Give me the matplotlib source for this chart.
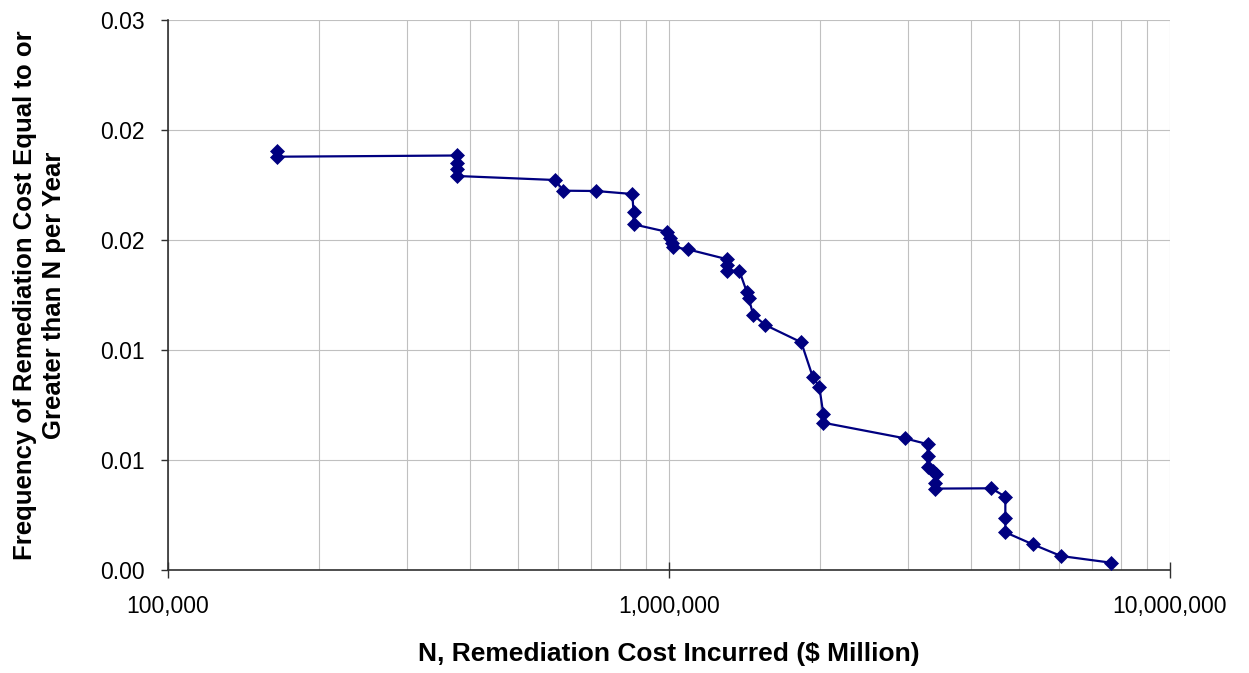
import matplotlib
matplotlib.use("Agg")
import matplotlib.pyplot as plt
from matplotlib.ticker import FixedLocator, NullFormatter, LogLocator

# Remediation cost N (dollars) and annual frequency of cost >= N
cost = [165400, 165400, 378000, 378000, 378000, 378000, 592400, 615200, 715000,
        844800, 849500, 849500, 993100, 1004600, 1016200, 1020000, 1089700,
        1307400, 1307400, 1307400, 1381500, 1429300, 1442500, 1473300, 1556800,
        1836500, 1935700, 1995300, 2032300, 2032300, 2955600, 3283300, 3283300,
        3283300, 3368900, 3411000, 3395300, 3395300, 4398000, 4691800, 4691800,
        4691800, 5320800, 6057600, 7624600]
freq = [0.019059, 0.018786, 0.018841, 0.018500, 0.018214, 0.017909, 0.017727,
        0.017241, 0.017227, 0.017091, 0.016295, 0.015714, 0.015364, 0.015077,
        0.014841, 0.014682, 0.014577, 0.014123, 0.013864, 0.013605, 0.013605,
        0.012650, 0.012350, 0.011591, 0.011136, 0.010350, 0.008786, 0.008332,
        0.007091, 0.006695, 0.005986, 0.005718, 0.005182, 0.004695, 0.004509,
        0.004377, 0.003941, 0.003700, 0.003714, 0.003332, 0.002350, 0.001714,
        0.001168, 0.000636, 0.000332]

x_ticks = [1e5, 1e6, 1e7]
x_tick_labels = ["100,000", "1,000,000", "10,000,000"]
y_ticks = [0.0, 0.005, 0.010, 0.015, 0.020, 0.025]
y_tick_labels = ["0.00", "0.01", "0.01", "0.02", "0.02", "0.03"]

plt.rcParams["font.family"] = ["Liberation Sans", "DejaVu Sans"]

fig = plt.figure(figsize=(12.49, 6.73), dpi=100)
ax = fig.add_axes([168 / 1249, 1 - 570 / 673, 1002 / 1249, 550 / 673])

ax.plot(cost, freq, color="#000080", lw=1.6, marker="D", ms=7,
        mfc="#000080", mec="#000080", mew=0.5, zorder=3)

ax.set_xscale("log")
ax.set_xlim(1e5, 1e7)
ax.set_ylim(0, 0.025)

ax.xaxis.set_major_locator(FixedLocator(x_ticks))
ax.set_xticklabels(x_tick_labels)
ax.xaxis.set_minor_locator(LogLocator(base=10, subs=range(2, 10), numticks=20))
ax.xaxis.set_minor_formatter(NullFormatter())
ax.set_yticks(y_ticks)
ax.set_yticklabels(y_tick_labels)

ax.grid(True, which="major", axis="both", color="#c0c0c0", lw=0.8)
ax.grid(True, which="minor", axis="x", color="#c0c0c0", lw=0.8)
ax.set_axisbelow(True)

for side in ("top", "right"):
    ax.spines[side].set_visible(False)
for side in ("left", "bottom"):
    ax.spines[side].set_color("#303030")
    ax.spines[side].set_linewidth(1.2)

ax.tick_params(axis="x", which="major", direction="inout", length=12, width=1,
               labelsize=16.5, pad=12, color="#303030")
ax.tick_params(axis="x", which="minor", length=0)
ax.tick_params(axis="y", which="major", direction="out", length=5, width=1,
               labelsize=16.5, pad=12, color="#303030")

ax.set_xlabel("N, Remediation Cost Incurred ($ Million)", fontsize=19,
              fontweight="bold")
ax.xaxis.set_label_coords(0.5, -0.13)
ax.set_ylabel("Frequency of Remediation Cost Equal to or\nGreater than N per Year",
              fontsize=18.5, fontweight="bold", linespacing=1.25)
ax.yaxis.set_label_coords(-0.102, 0.5)

fig.savefig("out.png", dpi=100)
